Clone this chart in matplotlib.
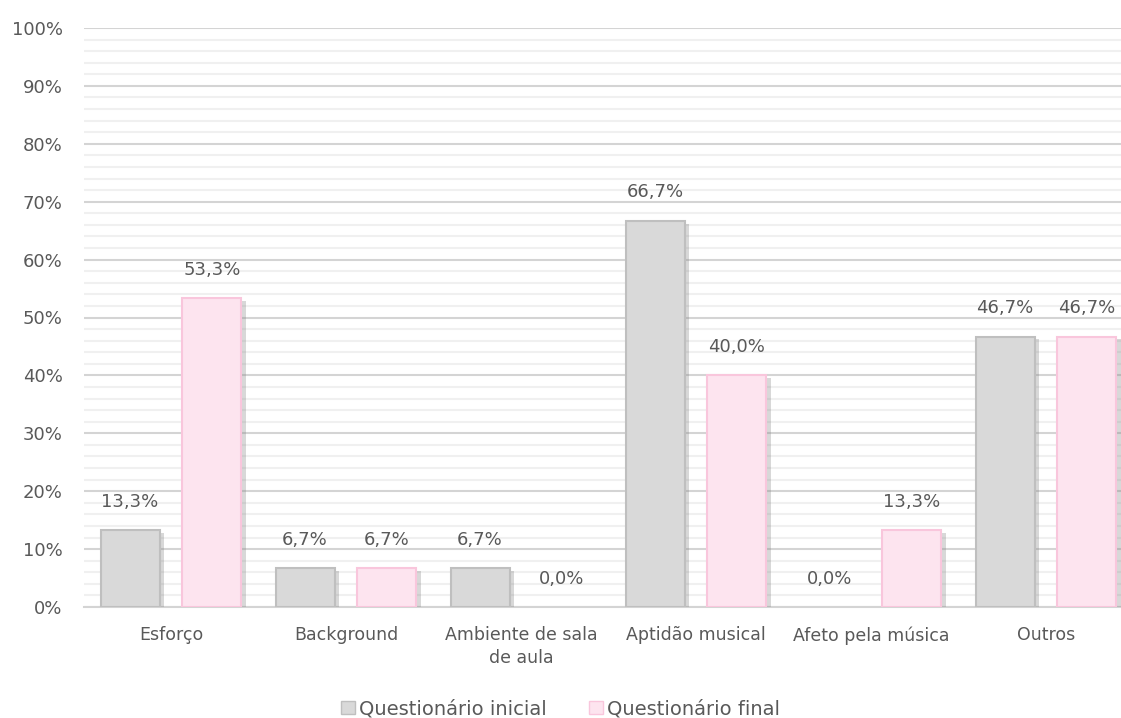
import matplotlib
matplotlib.use("Agg")
import matplotlib.pyplot as plt
import matplotlib.patheffects as pe
from matplotlib.ticker import MultipleLocator, FuncFormatter
from matplotlib.patches import Patch
import numpy as np

# Data
categories = [
    "Esforço",
    "Background",
    "Ambiente de sala\nde aula",
    "Aptidão musical",
    "Afeto pela música",
    "Outros",
]
inicial = [13.3, 6.7, 6.7, 66.7, 0.0, 46.7]
final = [53.3, 6.7, 0.0, 40.0, 13.3, 46.7]
series_names = ["Questionário inicial", "Questionário final"]

TEXT = "#595959"
GRAY_FACE, GRAY_EDGE = "#d9d9d9", "#bfbfbf"
PINK_FACE, PINK_EDGE = "#fde4ef", "#f9c6dc"

plt.rcParams["font.family"] = ["DejaVu Sans"]

fig = plt.figure(figsize=(11.21, 7.18), dpi=100)
ax = fig.add_axes([83.5 / 1121, 111 / 718, 1050 / 1121, 579 / 718])

x = np.arange(len(categories))
width = 0.337
shadow = [pe.SimplePatchShadow(offset=(3, -2), shadow_rgbFace="#7f7f7f", alpha=0.3),
          pe.Normal()]

bars_a = ax.bar(x - 0.234, inicial, width, color=GRAY_FACE, edgecolor=GRAY_EDGE,
                linewidth=1.5, zorder=3)
bars_b = ax.bar(x + 0.234, final, width, color=PINK_FACE, edgecolor=PINK_EDGE,
                linewidth=1.5, zorder=3)
for b in list(bars_a) + list(bars_b):
    if b.get_height() > 0:
        b.set_path_effects(shadow)
    else:
        # empty bars leave no outline on the axis
        b.set_edgecolor("none")

def fmt(v):
    return f"{v:.1f}%".replace(".", ",")

for bars in (bars_a, bars_b):
    ax.bar_label(bars, labels=[fmt(b.get_height()) for b in bars], padding=14,
                 fontsize=13, color=TEXT)

ax.set_xlim(-0.5, len(categories) - 0.5)
ax.set_ylim(0, 100)
ax.yaxis.set_major_locator(MultipleLocator(10))
ax.yaxis.set_minor_locator(MultipleLocator(2))
ax.yaxis.set_major_formatter(FuncFormatter(lambda v, p: f"{v:.0f}%"))
ax.grid(axis="y", which="major", color="#d4d4d4", linewidth=1.5, zorder=0)
ax.grid(axis="y", which="minor", color="#f0f0f0", linewidth=1.5, zorder=0)
ax.set_axisbelow(True)

for s in ["top", "right", "left"]:
    ax.spines[s].set_visible(False)
ax.spines["bottom"].set_color("#d4d4d4")
ax.spines["bottom"].set_linewidth(1.5)

ax.set_xticks(x)
ax.set_xticklabels(categories, fontsize=12.5, color=TEXT, linespacing=1.3)
ax.tick_params(axis="x", length=0, pad=14)
ax.tick_params(axis="y", which="both", length=0, labelsize=13, labelcolor=TEXT, pad=15)

handles = [Patch(facecolor=GRAY_FACE, edgecolor=GRAY_EDGE, label=series_names[0]),
           Patch(facecolor=PINK_FACE, edgecolor=PINK_EDGE, label=series_names[1])]
fig.legend(handles=handles, loc="lower center", bbox_to_anchor=(0.5, -0.025), ncol=2,
           frameon=False, fontsize=14, labelcolor=TEXT, handlelength=0.7,
           handleheight=0.7, handletextpad=0.2, columnspacing=2.2)

fig.savefig("out.png", dpi=100)
